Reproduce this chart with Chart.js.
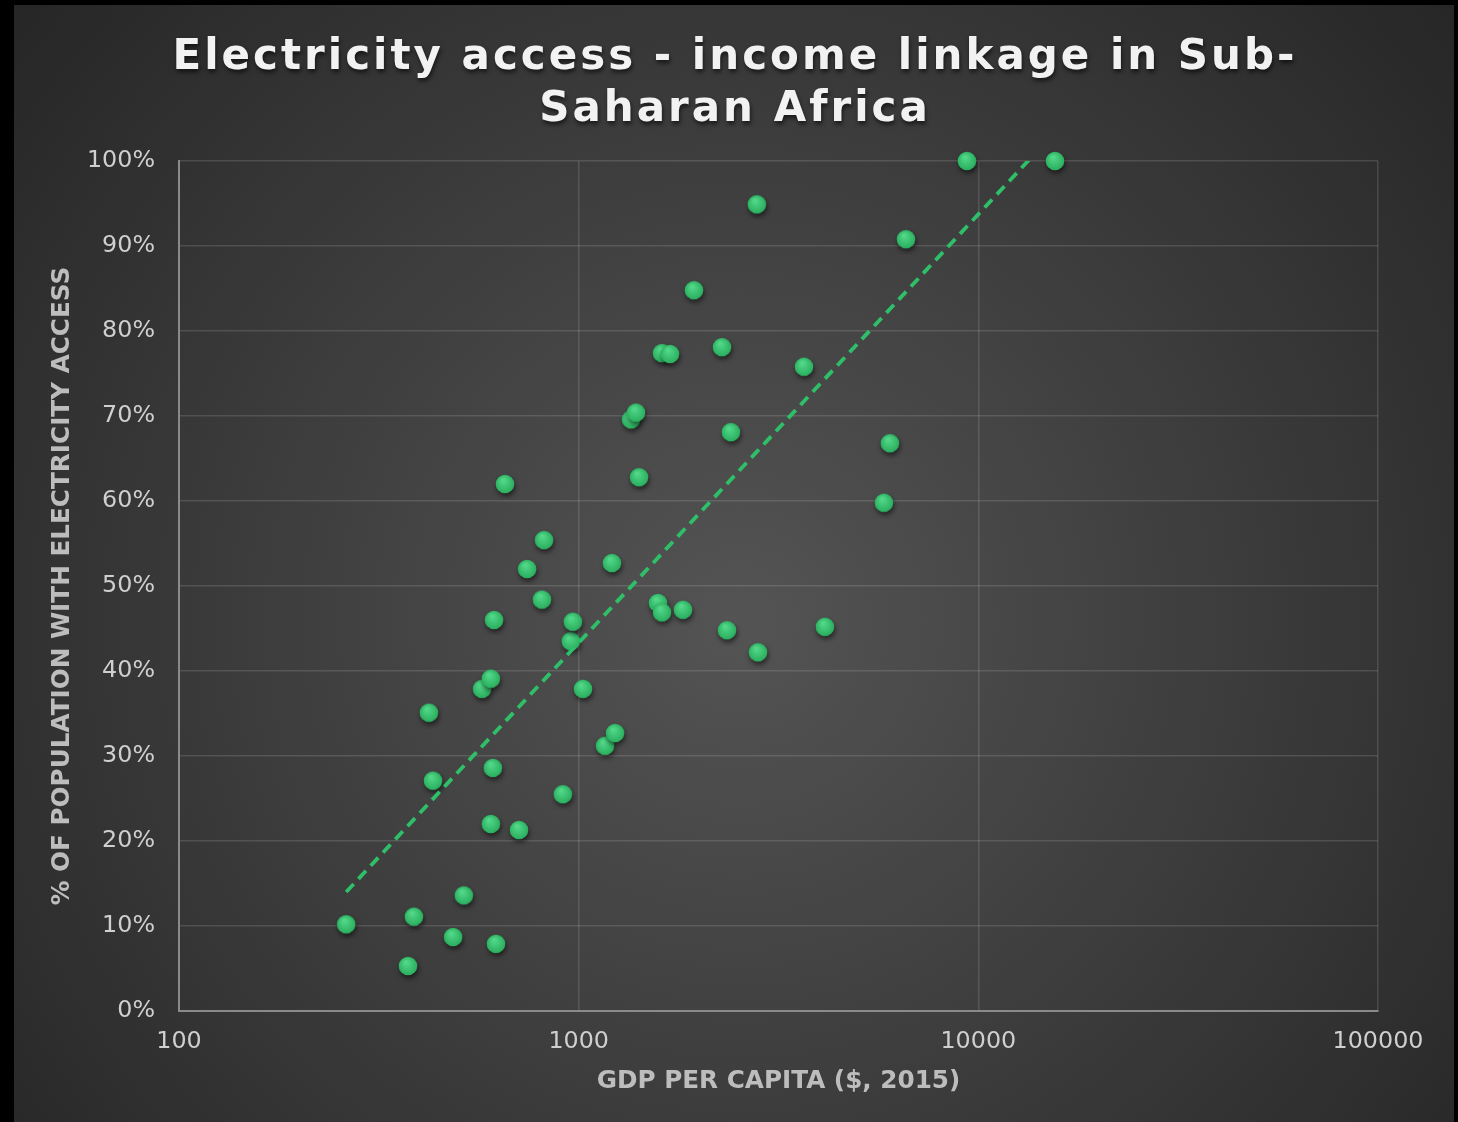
<!DOCTYPE html>
<html>
<head>
<meta charset="utf-8">
<title>Electricity access - income linkage in Sub-Saharan Africa</title>
<script src="https://cdn.jsdelivr.net/npm/chart.js@4/dist/chart.umd.min.js"></script>
<style>
    html, body { margin: 0; padding: 0; background: #000; }
    #wrap { width: 1458px; height: 1122px; position: relative; }
</style>
</head>
<body>
<div id="wrap"><canvas id="accessChart"></canvas></div>
<script>
// Data
const titleLines = ['Electricity access - income linkage in Sub-', 'Saharan Africa'];

const gdpPerCapita = [262, 374, 387, 422, 432, 485, 516, 573, 603, 614, 610, 603, 621, 654, 709, 743,
    809, 819, 913, 956, 967, 1025, 1164, 1211, 1233, 1352, 1391, 1416, 1579, 1616, 1616, 1692,
    1824, 1943, 2283, 2350, 2404, 2791, 2809, 3662, 4131, 5804, 6009, 6590, 9364, 15550];
const accessPct = [10.2, 5.3, 11.1, 35.1, 27.1, 8.7, 13.6, 37.9, 39.1, 46.0, 28.6, 22.0, 7.9, 62.0, 21.3, 52.0,
    48.4, 55.4, 25.5, 43.5, 45.8, 37.9, 31.2, 52.7, 32.7, 69.6, 70.4, 62.8, 48.0, 46.9, 77.4, 77.3,
    47.2, 84.8, 78.1, 44.8, 68.1, 94.9, 42.2, 75.8, 45.2, 59.8, 66.8, 90.8, 100, 100];

// log trendline end points (clipped at 100% by the axis)
const trendX = [262, 15550];
const trendY = [14.0, 103.4];

const xTicks = [100, 1000, 10000, 100000];
const yTicks = [0, 10, 20, 30, 40, 50, 60, 70, 80, 90, 100];

// Glossy green marker sprite
function makeDot() {
    const c = document.createElement('canvas');
    c.width = 32;
    c.height = 32;
    const g = c.getContext('2d');
    g.shadowColor = 'rgba(0,0,0,0.55)';
    g.shadowBlur = 5;
    g.shadowOffsetX = 1;
    g.shadowOffsetY = 3;
    const grad = g.createRadialGradient(14, 12, 1, 16, 16, 10);
    grad.addColorStop(0, '#52d889');
    grad.addColorStop(1, '#28ac5c');
    g.fillStyle = grad;
    g.beginPath();
    g.arc(16, 16, 9.3, 0, Math.PI * 2);
    g.fill();
    return c;
}

// Background panel + title
const panelPlugin = {
    id: 'panel',
    beforeDraw(chart) {
        const ctx = chart.ctx;
        const w = chart.width, h = chart.height;
        ctx.save();
        ctx.fillStyle = '#000';
        ctx.fillRect(0, 0, w, h);
        const grad = ctx.createRadialGradient(740, 620, 0, 740, 620, 950);
        grad.addColorStop(0, '#545454');
        grad.addColorStop(1, '#262626');
        ctx.fillStyle = grad;
        ctx.fillRect(14, 5, 1440, h - 5);
        ctx.restore();
    },
    afterDraw(chart) {
        const ctx = chart.ctx;
        ctx.save();
        ctx.font = 'bold 42px "DejaVu Sans", Verdana, sans-serif';
        ctx.letterSpacing = '3px';
        ctx.textAlign = 'center';
        ctx.textBaseline = 'alphabetic';
        ctx.fillStyle = '#f2f2f2';
        ctx.shadowColor = 'rgba(0,0,0,0.6)';
        ctx.shadowBlur = 4;
        ctx.shadowOffsetX = 1;
        ctx.shadowOffsetY = 3;
        titleLines.forEach(function(line, i) {
            ctx.fillText(line, 735, 69 + i * 52);
        });
        ctx.restore();
    }
};

const tickFont = { family: '"DejaVu Sans", Verdana, sans-serif', size: 23.8 };
const axisTitleFont = { family: '"DejaVu Sans", Verdana, sans-serif', size: 24.7, weight: 'bold' };

new Chart(document.getElementById('accessChart'), {
    type: 'scatter',
    data: {
        datasets: [
            {
                type: 'line',
                label: 'Trend',
                data: trendX.map((x, i) => ({ x: x, y: trendY[i] })),
                borderColor: '#2fbf68',
                borderWidth: 3.8,
                borderDash: [11, 7],
                pointRadius: 0,
                fill: false,
                clip: 0
            },
            {
                label: 'Countries',
                data: gdpPerCapita.map((x, i) => ({ x: x, y: accessPct[i] })),
                pointStyle: makeDot(),
                pointRadius: 9,
                clip: false
            }
        ]
    },
    options: {
        responsive: true,
        maintainAspectRatio: false,
        animation: false,
        layout: { padding: { top: 161, right: 80, left: 0, bottom: 0 } },
        plugins: {
            legend: { display: false },
            tooltip: { enabled: false }
        },
        scales: {
            x: {
                type: 'logarithmic',
                min: 100,
                max: 100000,
                afterBuildTicks: function(scale) {
                    scale.ticks = xTicks.map(v => ({ value: v }));
                },
                afterFit: function(scale) {
                    scale.height = 111;
                    scale.paddingLeft = 0;
                    scale.paddingRight = 0;
                },
                grid: { color: 'rgba(255,255,255,0.13)', lineWidth: 1.5, drawTicks: false },
                border: { color: '#8a8a8a', width: 2 },
                ticks: {
                    color: '#cfcfcf',
                    font: tickFont,
                    padding: 17,
                    maxRotation: 0,
                    callback: v => String(v)
                },
                title: {
                    display: true,
                    text: 'GDP PER CAPITA ($, 2015)',
                    color: '#bdbdbd',
                    font: axisTitleFont,
                    padding: { top: 0, bottom: 26 }
                }
            },
            y: {
                min: 0,
                max: 100,
                afterBuildTicks: function(scale) {
                    scale.ticks = yTicks.map(v => ({ value: v }));
                },
                afterFit: function(scale) {
                    scale.width = 179;
                    scale.paddingTop = 0;
                    scale.paddingBottom = 0;
                },
                grid: { color: 'rgba(255,255,255,0.13)', lineWidth: 1.5, drawTicks: false },
                border: { color: '#8a8a8a', width: 2 },
                ticks: {
                    color: '#cfcfcf',
                    font: tickFont,
                    padding: 24,
                    callback: v => v + '%'
                },
                title: {
                    display: true,
                    text: '% OF POPULATION WITH ELECTRICITY ACCESS',
                    color: '#bdbdbd',
                    font: axisTitleFont,
                    padding: { top: 48, bottom: 0 }
                }
            }
        }
    },
    plugins: [panelPlugin]
});
</script>
</body>
</html>
